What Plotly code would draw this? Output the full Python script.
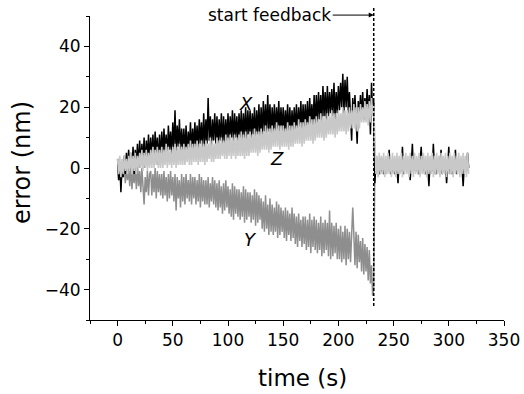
import plotly.graph_objects as go

# time axis (s), one sample per second
time_s = list(range(0, 319))

# X error (nm), black trace
x_err = [
    3, -4, 2, -8, 1, -3, 4, -2, 5, -1,
    6, -1, 5, 0, 7, -2, 6, 1, 8, 0,
    9, 1, 8, 2, 10, 0, 9, 3, 11, 2,
    10, 3, 11, 2, 12, 4, 10, 1, 11, 3,
    12, 4, 13, 5, 11, 3, 14, 6, 12, 4,
    15, 6, 19, 5, 14, 7, 16, 5, 13, 6,
    13, 5, 14, 4, 12, 6, 15, 5, 13, 6,
    15, 7, 14, 6, 16, 8, 15, 6, 18, 7,
    16, 8, 23, 9, 17, 7, 16, 9, 18, 8,
    17, 8, 16, 9, 18, 7, 17, 8, 16, 9,
    18, 9, 17, 10, 19, 8, 18, 10, 17, 9,
    18, 10, 19, 9, 18, 10, 20, 9, 19, 11,
    19, 10, 18, 11, 20, 9, 19, 11, 21, 10,
    20, 11, 22, 12, 21, 11, 24, 12, 21, 11,
    20, 12, 21, 11, 20, 12, 22, 11, 20, 12,
    20, 11, 19, 12, 21, 10, 20, 11, 19, 12,
    20, 12, 21, 11, 20, 12, 22, 11, 21, 13,
    21, 13, 22, 12, 23, 14, 21, 13, 24, 14,
    24, 15, 25, 16, 24, 15, 27, 17, 25, 16,
    27, 17, 25, 18, 26, 17, 28, 16, 25, 18,
    27, 19, 28, 20, 31, 18, 29, 20, 30, 18,
    25, 17, 9, 23, 16, 24, 18, 8, 22, 17,
    24, 17, 25, 16, 23, 18, 26, 17, 24, 11,
    28, 18, 22,
    -5, 2, -1, 1, -2, 3, -1,
    1, -2, 2, 0, -1, 2, 6, -2, 1, -1,
    2, -2, 1, 0, -5, 2, 1, -1, 7, -2,
    1, 2, -1, 0, 2, -4, 1, 8, -1, 2,
    -1, 1, 0, -2, 2, 7, -1, 1, 2, -2,
    1, 0, -6, 2, 1, -1, 8, 0, -2, 1,
    2, -1, 1, 6, -2, 1, 0, 2, -5, 1,
    7, -1, 2, -2, 1, 0, 6, -2, 1, 2,
    -1, 2, 0, -6, 1, 2, -1, 5, 0,
]

# Y error (nm), mid-grey trace
y_err = [
    1, -4, 2, -6, 0, -3, 1, -5, 0, -4,
    0, -6, 1, -7, -1, -5, 0, -7, 1, -6,
    -1, -8, 0, -7, -12, -3, -8, -1, -9, -2,
    -1, -9, -2, -8, 0, -10, -1, -8, -2, -9,
    -2, -10, -1, -9, -3, -11, -2, -10, -1, -9,
    -3, -11, -2, -14, -3, -10, -4, -13, -2, -11,
    -3, -12, -2, -10, -4, -11, -2, -12, -3, -10,
    -3, -12, -4, -11, -2, -13, -3, -11, -4, -12,
    -4, -12, -3, -13, -5, -11, -3, -12, -4, -13,
    -5, -14, -4, -13, -6, -15, -5, -14, -4, -13,
    -6, -15, -7, -16, -5, -17, -6, -15, -7, -16,
    -7, -17, -8, -16, -6, -18, -7, -17, -8, -16,
    -8, -18, -9, -17, -7, -19, -8, -18, -9, -17,
    -10, -20, -11, -21, -9, -20, -12, -22, -10, -21,
    -12, -22, -13, -21, -11, -23, -12, -22, -13, -21,
    -14, -23, -13, -24, -14, -22, -15, -24, -13, -23,
    -15, -25, -16, -26, -15, -24, -17, -26, -16, -25,
    -16, -27, -17, -26, -15, -28, -17, -26, -16, -27,
    -17, -28, -18, -27, -16, -29, -18, -28, -17, -27,
    -18, -29, -14, -30, -18, -29, -19, -28, -18, -30,
    -20, -30, -19, -31, -21, -30, -19, -32, -20, -30,
    -21, -31, -20, -13, -22, -32, -21, -33, -22, -31,
    -24, -34, -23, -35, -25, -34, -26, -37, -27, -38,
    -32, -42, -40,
    0, -2, 1, -1, 2, -2, 0,
    1, -1, 2, -2, 0, 1, -1, 2, -2, 0,
    2, -1, 1, -2, 1, 0, 2, -1, 1, -2,
    1, 2, -1, 0, 2, -2, 1, 0, -1, 2,
    0, 1, -2, 1, 2, -1, 0, 2, -2, 1,
    -1, 2, 0, -2, 1, 2, -1, 0, 1, -2,
    2, 0, -1, 1, -2, 2, 0, 1, -1, 0,
    1, -2, 2, 0, -1, 1, 2, -2, 0, 1,
    -1, 2, 0, -2, 1, 0, 2, -1, 1,
]

# Z error (nm), light-grey trace
z_err = [
    3, -2, 4, -3, 3, -2, 4, -1, 3, -2,
    4, -1, 5, -2, 4, -1, 5, -2, 4, 0,
    5, 0, 6, -1, 5, 0, 6, -1, 5, 0,
    6, 0, 7, 0, 6, 1, 7, 0, 6, 0,
    7, 0, 6, 1, 8, 0, 7, 1, 6, 0,
    7, 1, 8, 0, 7, 1, 8, 1, 7, 1,
    8, 1, 7, 2, 8, 1, 9, 1, 8, 2,
    8, 2, 9, 1, 8, 2, 9, 2, 8, 1,
    9, 2, 8, 3, 10, 2, 9, 2, 8, 3,
    10, 3, 9, 3, 10, 4, 9, 3, 11, 3,
    10, 4, 11, 3, 10, 4, 11, 3, 10, 4,
    11, 4, 12, 4, 11, 3, 12, 4, 11, 4,
    12, 5, 11, 5, 13, 5, 12, 4, 12, 5,
    13, 6, 12, 6, 14, 6, 13, 5, 13, 6,
    14, 7, 13, 7, 15, 7, 14, 6, 14, 7,
    14, 7, 13, 7, 15, 6, 14, 7, 14, 7,
    15, 8, 14, 8, 16, 8, 15, 7, 15, 8,
    16, 9, 15, 9, 17, 9, 16, 8, 16, 9,
    17, 10, 16, 10, 18, 10, 17, 9, 17, 10,
    18, 11, 17, 11, 19, 11, 18, 10, 18, 11,
    19, 12, 18, 12, 20, 12, 19, 11, 19, 12,
    20, 13, 19, 13, 21, 13, 20, 12, 20, 13,
    21, 15, 20, 15, 22, 15, 21, 14, 22, 15,
    23, 17, 21,
    4, -2, 4, -3, 5, -2, 4,
    -2, 5, -3, 4, -2, 5, -2, 4, -3, 5,
    -2, 4, -3, 5, -2, 4, -2, 5, -3, 4,
    -2, 5, -2, 4, -3, 5, -2, 4, -3, 5,
    -2, 4, -2, 5, -3, 4, -2, 5, -2, 4,
    -3, 5, -2, 4, -2, 5, -3, 4, -2, 5,
    -2, 4, -3, 5, -2, 4, -2, 5, -3, 4,
    -2, 5, -2, 4, -3, 5, -2, 4, -2, 5,
    -3, 4, -2, 5, -2, 4, -3, 5, -2,
]

feedback_time = 232
x_ticks = [0, 50, 100, 150, 200, 250, 300, 350]
y_ticks = [-40, -20, 0, 20, 40]

FONT = "DejaVu Sans"

fig = go.Figure()
fig.add_trace(go.Scatter(x=time_s, y=y_err, mode="lines", name="Y",
                         line=dict(color="#8e8e8e", width=1.5)))
fig.add_trace(go.Scatter(x=time_s, y=x_err, mode="lines", name="X",
                         line=dict(color="#000000", width=1.5)))
fig.add_trace(go.Scatter(x=time_s, y=z_err, mode="lines", name="Z",
                         line=dict(color="#c8c8c8", width=1.6)))

fig.add_shape(type="line", xref="x", yref="paper",
              x0=feedback_time, x1=feedback_time, y0=0.046, y1=1.033,
              line=dict(color="black", width=1.5, dash="3px,2px"))

fig.add_annotation(x=feedback_time, y=1.003, xref="x", yref="paper",
                   text="start feedback", showarrow=True, ax=-104, ay=0,
                   arrowhead=2, arrowsize=1, arrowwidth=1, arrowcolor="black",
                   standoff=0, font=dict(family=FONT, size=17, color="black"))

for lbl, lx, ly in [("X", 116, 21.3), ("Z", 144.6, 3.2), ("Y", 120.5, -23.5)]:
    fig.add_annotation(x=lx, y=ly, xref="x", yref="y", text="<i>%s</i>" % lbl,
                       showarrow=False,
                       font=dict(family=FONT, size=18, color="black"))

# axis titles
fig.add_annotation(x=(302 - 90) / 414, y=(320 - 378) / 304, xref="paper", yref="paper",
                   text="time (s)", showarrow=False, xanchor="center", yanchor="middle",
                   font=dict(family=FONT, size=23, color="black"))
fig.add_annotation(x=(22 - 90) / 414, y=(320 - 163) / 304, xref="paper", yref="paper",
                   text="error (nm)", showarrow=False, textangle=-90,
                   xanchor="center", yanchor="middle",
                   font=dict(family=FONT, size=24, color="black"))

axis_common = dict(showgrid=False, zeroline=False, showline=True, linecolor="black",
                   linewidth=1, ticks="outside", ticklen=5, tickwidth=1,
                   tickcolor="black", mirror=False, automargin=False,
                   tickfont=dict(family=FONT, size=17, color="black"))

fig.update_xaxes(range=[-25, 350], tickvals=x_ticks,
                 minor=dict(dtick=25, tick0=0, ticks="outside", ticklen=3,
                            tickcolor="black", tickwidth=1),
                 **axis_common)
fig.update_yaxes(range=[-50, 50], tickvals=y_ticks,
                 minor=dict(dtick=10, tick0=0, ticks="outside", ticklen=3,
                            tickcolor="black", tickwidth=1),
                 **axis_common)

fig.update_layout(width=524, height=394, showlegend=False, autosize=False,
                  margin=dict(l=90, r=20, t=16, b=74, autoexpand=False),
                  paper_bgcolor="white", plot_bgcolor="white",
                  font=dict(family=FONT, color="black"))

fig.write_html("out.html", config={"responsive": False})
